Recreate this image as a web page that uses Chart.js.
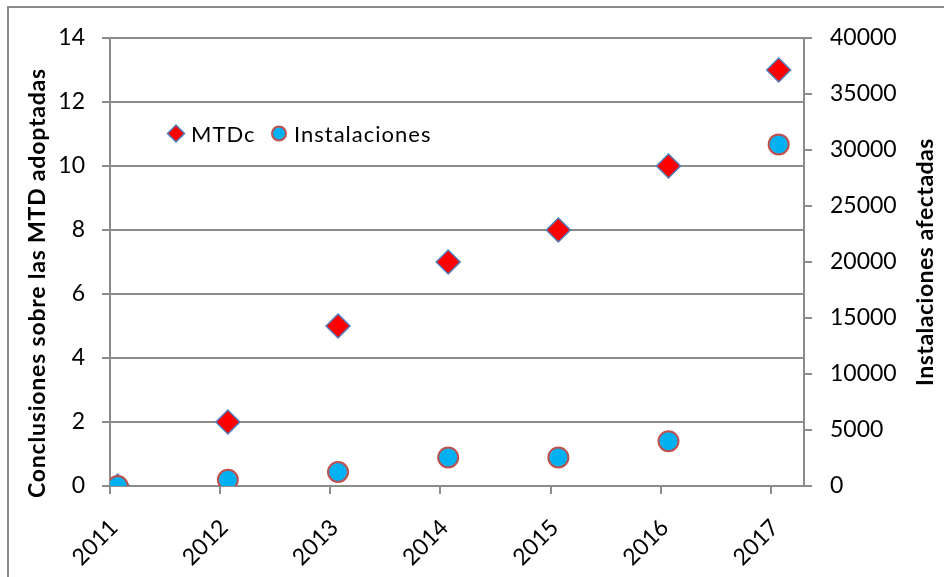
<!DOCTYPE html>
<html><head><meta charset="utf-8">
<script src="https://cdn.jsdelivr.net/npm/chart.js@4/dist/chart.umd.min.js"></script>
<style>html,body{margin:0;padding:0;background:#fff;} #wrap{width:944px;height:577px;position:relative}</style>
</head><body><div id="wrap"><canvas id="c" width="944" height="577"></canvas></div>
<script>
// ---- data ----
const tickYears = [2011, 2012, 2013, 2014, 2015, 2016, 2017];
const xValues = [2011.07, 2012.07, 2013.07, 2014.07, 2015.07, 2016.07, 2017.07];
const mtdc = [0, 2, 5, 7, 8, 10, 13];
const instalaciones = [0, 550, 1250, 2550, 2550, 4000, 30500];
const seriesNames = ['MTDc', 'Instalaciones'];
const leftTitle = 'Conclusiones sobre las MTD adoptadas';
const rightTitle = 'Instalaciones afectadas';

const FONT = 'Lato';
const GRID = '#8c8c8c';
const C_RED = '#FF0000', C_BLUE_EDGE = '#4F81BD', C_CYAN = '#00B0F0', C_RED_EDGE = '#C0504D';

const pts = (ys) => xValues.map((x, i) => ({x, y: ys[i]}));

const decor = {
  id: 'decor',
  beforeDraw(chart) {
    const ctx = chart.ctx;
    ctx.save();
    ctx.fillStyle = '#fff';
    ctx.fillRect(0, 0, chart.width, chart.height);
    ctx.strokeStyle = '#8c8c8c';
    ctx.lineWidth = 2;
    ctx.beginPath();
    ctx.moveTo(8, chart.height + 5); ctx.lineTo(8, 7); ctx.lineTo(chart.width + 5, 7);
    ctx.stroke();
    ctx.restore();
  },
  afterDraw(chart) {
    const ctx = chart.ctx;
    const area = chart.chartArea;
    ctx.save();
    // axis titles (both read bottom-to-top)
    ctx.fillStyle = '#000';
    ctx.font = 'bold 23px ' + FONT;
    ctx.textAlign = 'center';
    ctx.textBaseline = 'alphabetic';
    ctx.save();
    ctx.letterSpacing = '0.8px';
    ctx.translate(45, (area.top + area.bottom) / 2 + 21);
    ctx.rotate(-Math.PI / 2);
    ctx.fillText(leftTitle, 0, 0);
    ctx.restore();
    ctx.save();
    ctx.letterSpacing = '0.5px';
    ctx.translate(933, (area.top + area.bottom) / 2);
    ctx.rotate(-Math.PI / 2);
    ctx.fillText(rightTitle, 0, 0);
    ctx.restore();

    // legend inside plot area
    const ly = 133.5;
    const h = Chart.helpers;
    const ds = chart.data.datasets;
    ctx.fillStyle = C_RED; ctx.strokeStyle = C_BLUE_EDGE; ctx.lineWidth = 1.5;
    h.drawPoint(ctx, {pointStyle: 'rectRot', radius: 8.5, borderWidth: 1.5, rotation: 0}, 176, ly);
    ctx.fillStyle = C_CYAN; ctx.strokeStyle = C_RED_EDGE; ctx.lineWidth = 2;
    h.drawPoint(ctx, {pointStyle: 'circle', radius: 7, borderWidth: 2, rotation: 0}, 279, ly);
    ctx.fillStyle = '#000';
    ctx.font = '22px ' + FONT;
    ctx.letterSpacing = '1px';
    ctx.textAlign = 'left';
    ctx.textBaseline = 'middle';
    ctx.fillText(ds[0].label, 191, ly + 1);
    ctx.fillText(ds[1].label, 294, ly + 1);
    ctx.restore();
  }
};

new Chart(document.getElementById('c'), {
  type: 'scatter',
  data: {
    datasets: [
      {
        label: seriesNames[0], data: pts(mtdc), yAxisID: 'y', order: 2,
        pointStyle: 'rectRot', pointRadius: 12, pointHoverRadius: 12,
        backgroundColor: C_RED, borderColor: C_BLUE_EDGE, pointBorderWidth: 1.5, borderWidth: 1.5
      },
      {
        label: seriesNames[1], data: pts(instalaciones), yAxisID: 'y1', order: 1,
        pointStyle: 'circle', pointRadius: 10, pointHoverRadius: 10,
        backgroundColor: C_CYAN, borderColor: C_RED_EDGE, pointBorderWidth: 2, borderWidth: 2
      }
    ]
  },
  options: {
    responsive: false,
    animation: false,
    devicePixelRatio: 1,
    layout: {padding: {top: 38, left: 0, right: 0, bottom: 0}},
    plugins: {legend: {display: false}, tooltip: {enabled: false}},
    scales: {
      x: {
        type: 'linear', min: 2011, max: 2017.3,
        afterBuildTicks: (s) => { s.ticks = tickYears.map(v => ({value: v})); },
        afterFit: (s) => { s.height = 91; },
        grid: {drawOnChartArea: false, drawTicks: true, tickLength: 8, color: GRID, lineWidth: 2},
        border: {display: true, color: GRID, width: 2},
        ticks: {
          autoSkip: false, minRotation: 45, maxRotation: 45, padding: 20, labelOffset: 4, color: '#000',
          font: {family: FONT, size: 23},
          callback: (v) => String(v)
        }
      },
      y: {
        position: 'left', min: 0, max: 14,
        afterFit: (s) => { s.width = 110; },
        grid: {color: GRID, lineWidth: 2, drawTicks: true, tickLength: 8},
        border: {display: true, color: GRID, width: 2},
        ticks: {stepSize: 2, padding: 17, color: '#000', font: {family: FONT, size: 23}}
      },
      y1: {
        position: 'right', min: 0, max: 40000,
        afterFit: (s) => { s.width = 140; },
        grid: {drawOnChartArea: false, color: GRID, lineWidth: 2, drawTicks: true, tickLength: 8},
        border: {display: true, color: GRID, width: 2},
        ticks: {stepSize: 5000, padding: 18, color: '#000', font: {family: FONT, size: 23},
          callback: (v) => String(v)}
      }
    }
  },
  plugins: [decor]
});
</script>
</body></html>
